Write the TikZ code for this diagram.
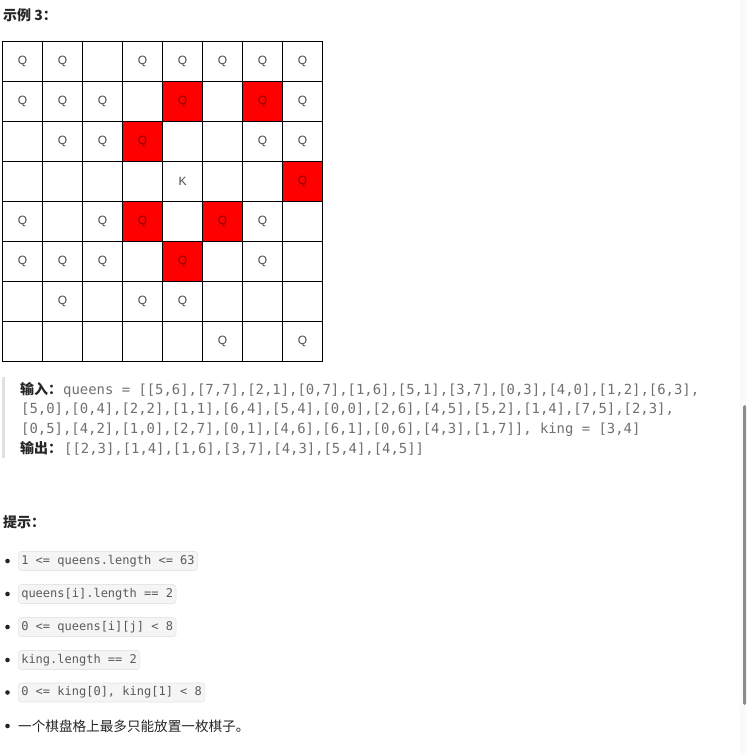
\documentclass[tikz,border=0pt]{standalone}
\usepackage{fontspec}
\setmainfont{Liberation Sans}
\newfontfamily\cjk{Noto Sans CJK SC}
\newfontfamily\monof{DejaVu Sans Mono}
\definecolor{qgray}{HTML}{4A4A4A}
\definecolor{qdark}{HTML}{8A0000}
\definecolor{codegray}{HTML}{707070}
\definecolor{boxtext}{HTML}{5A5A5A}
\definecolor{boxfill}{HTML}{F5F5F5}
\definecolor{boxline}{HTML}{E6E6E6}
\definecolor{headc}{HTML}{262626}
\definecolor{barc}{HTML}{E0E0E0}
\definecolor{scrollc}{HTML}{8C8C8C}
\definecolor{stripc}{HTML}{FAFAFA}
\def\celltxtQ{Q}
\def\celltxtR{Q}
\def\celltxtE{}
\def\celltxtK{K}
\tikzset{
  cell/.style={draw=black, line width=0.9pt, minimum size=40pt, inner sep=0pt,
    font=\fontsize{12}{12}\selectfont, text=qgray},
  cellQ/.style={cell},
  cellE/.style={cell},
  cellK/.style={cell},
  cellR/.style={cell, fill=red, text=qdark},
  heading/.style={anchor=base west, inner sep=0pt, text=headc,
    font=\cjk\bfseries\fontsize{14}{16}\selectfont},
  codeline/.style={anchor=base west, inner sep=0pt, text=codegray,
    font=\monof\fontsize{13.9}{16}\selectfont},
  codebox/.style={anchor=west, rounded corners=3pt, fill=boxfill, draw=boxline,
    line width=0.6pt, inner xsep=3pt, inner ysep=0pt, minimum height=19pt,
    text=boxtext, font=\monof\fontsize{12}{14}\selectfont},
  bulletdot/.style={circle, fill=headc, inner sep=0pt, minimum size=4.6pt},
  bodytext/.style={anchor=west, inner sep=0pt, text=headc,
    font=\cjk\fontsize{13.6}{16}\selectfont}
}
\begin{document}
\begin{tikzpicture}[x=1pt,y=-1pt]
\useasboundingbox (0,0) rectangle (746,754);
\fill[white] (0,0) rectangle (746,754);
\fill[stripc] (740,0) rectangle (746,754);
\fill[scrollc, rounded corners=1.5pt] (743,405) rectangle (746,705);

\node[heading] (title) at (3,20.5) {示例 3：};

\foreach \r/\row in {0/{Q,Q,E,Q,Q,Q,Q,Q},
                     1/{Q,Q,Q,E,R,E,R,Q},
                     2/{E,Q,Q,R,E,E,Q,Q},
                     3/{E,E,E,E,K,E,E,R},
                     4/{Q,E,Q,R,E,R,Q,E},
                     5/{Q,Q,Q,E,R,E,Q,E},
                     6/{E,Q,E,Q,Q,E,E,E},
                     7/{E,E,E,E,E,Q,E,Q}} {
  \foreach \t [count=\c from 0] in \row {
    \node[cell\t] (c\r\c) at ({22.5+40*\c},{61.7+40*\r}) {\csname celltxt\t\endcsname};
  }
}

\draw[barc, line width=2.5pt] (3.5,377) -- (3.5,458);
\node[heading] (inlab) at (20,394) {输入：};
\node[codeline] (code1) at (63,394) {queens = [[5,6],[7,7],[2,1],[0,7],[1,6],[5,1],[3,7],[0,3],[4,0],[1,2],[6,3],};
\node[codeline] (code2) at (21,413.8) {[5,0],[0,4],[2,2],[1,1],[6,4],[5,4],[0,0],[2,6],[4,5],[5,2],[1,4],[7,5],[2,3],};
\node[codeline] (code3) at (21,433.6) {[0,5],[4,2],[1,0],[2,7],[0,1],[4,6],[6,1],[0,6],[4,3],[1,7]], king = [3,4]};
\node[heading] (outlab) at (20,453.5) {输出：};
\node[codeline] (code4) at (64,453.5) {[[2,3],[1,4],[1,6],[3,7],[4,3],[5,4],[4,5]]};

\node[heading] (hint) at (3,527) {提示：};

\node[bulletdot] (b1) at (7.5,561) {};
\node[codebox] (h1) at (18,561) {1 <= queens.length <= 63};
\node[bulletdot] (b2) at (7.5,594) {};
\node[codebox] (h2) at (18,594) {queens[i].length == 2};
\node[bulletdot] (b3) at (7.5,627) {};
\node[codebox] (h3) at (18,627) {0 <= queens[i][j] < 8};
\node[bulletdot] (b4) at (7.5,660) {};
\node[codebox] (h4) at (18,660) {king.length == 2};
\node[bulletdot] (b5) at (7.5,692.5) {};
\node[codebox] (h5) at (18,692.5) {0 <= king[0], king[1] < 8};
\node[bulletdot] (b6) at (7.5,726) {};
\node[bodytext] (h6) at (18,726) {一个棋盘格上最多只能放置一枚棋子。};
\end{tikzpicture}
\end{document}
